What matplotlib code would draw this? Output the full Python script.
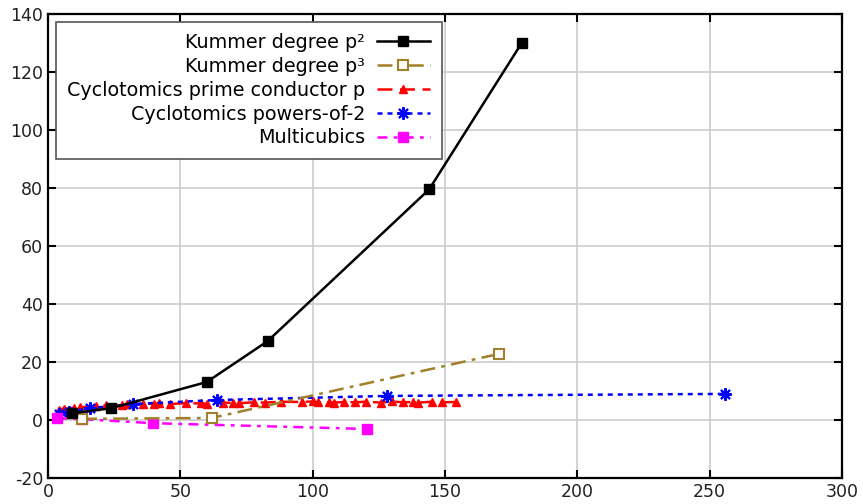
import matplotlib
matplotlib.use("Agg")
import matplotlib.pyplot as plt

plt.rcParams['axes.unicode_minus'] = False

# Kummer degree p^2
k2_x = [9, 24, 60, 83, 144, 179]
k2_y = [2.3, 4.1, 13.1, 27.2, 79.5, 130.0]
# Kummer degree p^3
k3_x = [12.8, 61.8, 170.4]
k3_y = [0.4, 0.7, 22.8]
# Cyclotomics prime conductor p
cp_x = [4, 6, 10, 12, 16, 18, 22, 28, 30, 36, 40, 42, 46, 52, 58, 60, 66, 70, 72, 78,
        82, 88, 96, 100, 102, 106, 108, 112, 116, 120, 126, 130, 134, 138, 140, 145, 149, 154]
cp_y = [3.6, 3.9, 4.2, 4.4, 4.6, 4.8, 5.0, 5.2, 5.4, 5.6, 5.6, 5.7, 5.5, 5.8, 5.7, 5.6, 5.9, 6.0, 5.8, 6.1,
        6.0, 6.3, 6.2, 6.4, 6.1, 6.3, 6.0, 6.2, 6.1, 6.3, 6.0, 6.4, 6.1, 6.2, 6.0, 6.3, 6.1, 6.2]
# Cyclotomics powers-of-2
p2_x = [4, 8, 16, 32, 64, 128, 256]
p2_y = [2.2, 2.8, 4.1, 5.5, 6.9, 8.3, 9.0]
# Multicubics
mc_x = [3.5, 12.8, 39.6, 120.5]
mc_y = [0.6, 0.3, -1.1, -3.1]

labels = ['Kummer degree p²', 'Kummer degree p³', 'Cyclotomics prime conductor p',
          'Cyclotomics powers-of-2', 'Multicubics']
xticks = [0, 50, 100, 150, 200, 250, 300]
yticks = [-20, 0, 20, 40, 60, 80, 100, 120, 140]

fig = plt.figure(figsize=(8.63, 5.04), dpi=100)
ax = fig.add_axes([0.0556, 0.0516, 0.92, 0.9206])

olive = '#a08028'
ax.plot(k2_x, k2_y, '-', color='black', lw=1.8, marker='s', ms=7.5,
        label=labels[0], zorder=5)
ax.plot(k3_x, k3_y, color=olive, lw=1.8, ls=(0, (6, 2.5, 1.5, 2.5)), marker='s', ms=7.5,
        mfc='white', mec=olive, mew=1.5, label=labels[1], zorder=4)
ax.plot(cp_x, cp_y, color='red', lw=1.8, ls=(0, (6, 3)), marker='^', ms=6,
        label=labels[2], zorder=3)
ax.plot(p2_x, p2_y, color='blue', lw=1.8, ls=(0, (2, 2)), marker=(8, 2, 0), ms=9, mew=1.5,
        label=labels[3], zorder=3)
ax.plot(mc_x, mc_y, color='magenta', lw=1.8, ls=(0, (4, 2.5, 1.5, 2.5)), marker='s', ms=7.5,
        label=labels[4], zorder=3)

ax.set_xlim(0, 300)
ax.set_ylim(-20, 140)
ax.set_xticks(xticks)
ax.set_yticks(yticks)
ax.grid(True, color='#cccccc', lw=1.2)
ax.set_axisbelow(True)
ax.tick_params(direction='in', length=6, width=1.5, labelsize=12.5, top=True, right=True,
               colors='black', labelcolor='#222222')
for s in ax.spines.values():
    s.set_linewidth(1.6)
    s.set_color('black')

leg = ax.legend(loc='upper left', bbox_to_anchor=(0.0, 1.0), markerfirst=False,
                fontsize=13.8, fancybox=False, framealpha=1, edgecolor='#555555',
                handlelength=2.8, handletextpad=0.6, borderaxespad=0.4, borderpad=0.6,
                labelspacing=0.25, alignment='right')
leg.get_frame().set_linewidth(1.2)
for t in leg.get_texts():
    t.set_ha('right')
leg._legend_box.align = 'right'

fig.savefig('out.png', dpi=100)
